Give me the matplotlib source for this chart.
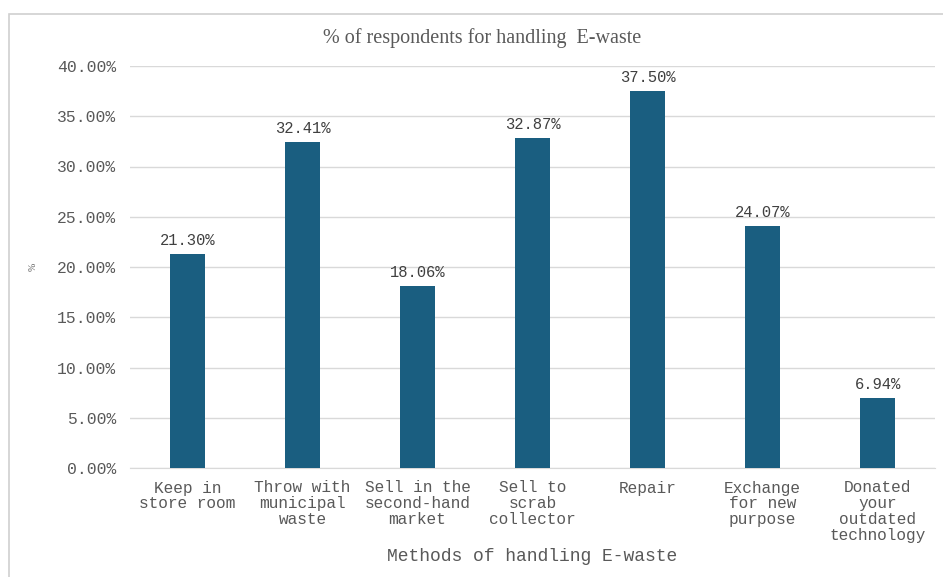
import matplotlib
matplotlib.use("Agg")
import matplotlib.pyplot as plt
from matplotlib.patches import Rectangle
from matplotlib.ticker import FuncFormatter

categories = [
    "Keep in\nstore room",
    "Throw with\nmunicipal\nwaste",
    "Sell in the\nsecond-hand\nmarket",
    "Sell to\nscrab\ncollector",
    "Repair",
    "Exchange\nfor new\npurpose",
    "Donated\nyour\noutdated\ntechnology",
]
values = [21.30, 32.41, 18.06, 32.87, 37.50, 24.07, 6.94]
y_ticks = [0, 5, 10, 15, 20, 25, 30, 35, 40]

bar_color = "#1a5e80"
grid_color = "#d9d9d9"
text_color = "#595959"
mono = "Liberation Mono"

fig = plt.figure(figsize=(9.43, 5.77), dpi=100)
fig.patch.set_facecolor("white")

# chart-area frame
fig.patches.append(Rectangle((9 / 943, -0.01), 1.0, 1 - 14 / 577 + 0.01,
                             transform=fig.transFigure, fill=False,
                             edgecolor="#d0d0d0", linewidth=1.2, zorder=0))

ax = fig.add_axes([130 / 943, 1 - 468 / 577, (935 - 130) / 943, (468 - 66) / 577])
x = list(range(len(categories)))
bars = ax.bar(x, values, width=0.305, color=bar_color, zorder=3)

ax.set_xlim(-0.5, len(categories) - 0.5)
ax.set_ylim(0, 40)
ax.set_yticks(y_ticks)
ax.yaxis.set_major_formatter(FuncFormatter(lambda v, _: f"{v:.2f}%"))
ax.grid(axis="y", color=grid_color, linewidth=1.0, zorder=0)
for s in ["top", "right", "left"]:
    ax.spines[s].set_visible(False)
ax.spines["bottom"].set_color(grid_color)
ax.tick_params(axis="both", length=0, colors=text_color)
ax.tick_params(axis="y", pad=10)
ax.tick_params(axis="x", pad=9)
ax.set_xticks(x)
ax.set_xticklabels(categories, fontfamily=mono, fontsize=11.6,
                   color=text_color, linespacing=1.08)
for lbl in ax.get_yticklabels():
    lbl.set_fontfamily(mono)
    lbl.set_fontsize(11.8)

for b, v in zip(bars, values):
    ax.text(b.get_x() + b.get_width() / 2, v + 0.6, f"{v:.2f}%",
            ha="center", va="bottom", fontfamily=mono, fontsize=11.2,
            color="#404040")

ax.set_xlabel("Methods of handling E-waste", fontfamily=mono, fontsize=13,
              color=text_color, labelpad=3)
ax.set_ylabel("%", fontfamily="Liberation Serif", fontsize=7, color=text_color,
              rotation=90)
ax.yaxis.set_label_coords(-0.115, 0.5)

fig.text(482 / 943, 1 - 38 / 577, "% of respondents for handling  E-waste",
         ha="center", va="center", fontfamily="Liberation Serif", fontsize=14.5,
         color="#595959")

fig.savefig("out.png", dpi=100, facecolor="white")
